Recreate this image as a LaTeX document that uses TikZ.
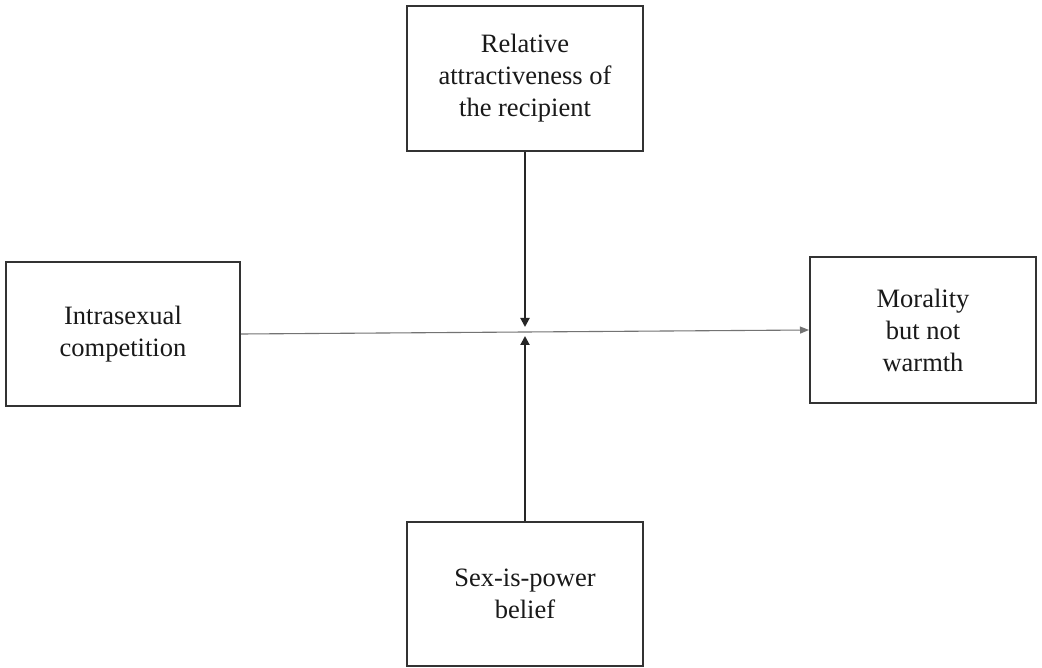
\documentclass[tikz,border=0pt]{standalone}
\usepackage{fontspec}
\setmainfont{Liberation Serif}
\usetikzlibrary{arrows.meta}
\begin{document}
\begin{tikzpicture}[x=1pt,y=-1pt,
  box/.style={draw=black!80,line width=2pt,align=center,inner sep=0pt,
    font=\fontsize{26.5}{32}\selectfont,text=black!90},
  varrow/.style={draw=black!85,line width=2pt,-{Triangle[length=9pt,width=9pt]}},
  harrow/.style={draw=black!55,line width=1.1pt,-{Triangle[length=9pt,width=7pt]}}]
\useasboundingbox[fill=white] (0,0) rectangle (1042,668);
\node[box,minimum width=236,minimum height=145] (top) at (525,78.5) {Relative\\attractiveness of\\the recipient};
\node[box,minimum width=234,minimum height=144] (left) at (123,334) {Intrasexual\\competition};
\node[box,minimum width=226,minimum height=146] (right) at (923,330) {Morality\\but not\\warmth};
\node[box,minimum width=236,minimum height=144] (bottom) at (525,594) {Sex-is-power\\belief};
\coordinate (ta) at (525,327);
\coordinate (ba) at (525,336);
\draw[harrow] (left.east) -- (right.west);
\draw[varrow] (top.south) -- (ta);
\draw[varrow] (bottom.north) -- (ba);
\end{tikzpicture}
\end{document}
